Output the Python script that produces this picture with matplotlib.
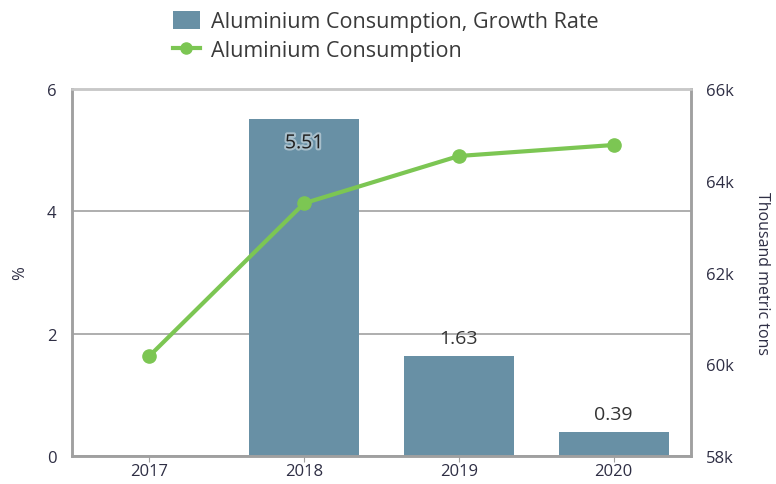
import matplotlib.pyplot as plt
import matplotlib.patheffects as pe
from matplotlib.lines import Line2D
from matplotlib.patches import Patch

years = ["2017", "2018", "2019", "2020"]
growth_rate = [None, 5.51, 1.63, 0.39]
consumption = [60.18, 63.51, 64.54, 64.78]  # thousand metric tons (k)

BAR_COLOR = "#6890a5"
LINE_COLOR = "#7cc653"
TEXT_COLOR = "#2e2e44"
FRAME_COLOR = "#a0a0a0"

plt.rcParams["font.family"] = ["Open Sans", "DejaVu Sans"]

fig = plt.figure(figsize=(7.76, 4.85), dpi=100)
ax = fig.add_axes([0.0928, 0.0577, 0.7977, 0.7567])
ax2 = ax.twinx()

x = list(range(len(years)))
bx = [i for i, v in zip(x, growth_rate) if v is not None]
bv = [v for v in growth_rate if v is not None]

ax.set_axisbelow(True)
ax.yaxis.grid(True, color="#a8a8a8", linewidth=1.3)
ax.bar(bx, bv, width=0.71, color=BAR_COLOR, zorder=2)

for xi, v in zip(bx, bv):
    if v > 5:
        ax.text(xi, v - 0.25, f"{v:.2f}", ha="center", va="top", fontsize=14,
                color="#222222",
                path_effects=[pe.withStroke(linewidth=3, foreground="#e8eef2", alpha=0.5)])
    else:
        ax.text(xi, v + 0.15, f"{v:.2f}", ha="center", va="bottom", fontsize=14,
                color="#333333")

ax.set_xlim(-0.5, 3.5)
ax.set_ylim(0, 6)
ax.set_yticks([0, 2, 4, 6])
ax.set_xticks(x)
ax.set_xticklabels(years)
ax.set_ylabel("%", fontsize=12, color=TEXT_COLOR, labelpad=14)

ax2.plot(x, consumption, color=LINE_COLOR, linewidth=3, marker="o",
         markersize=9.5, zorder=5)
ax2.set_ylim(58, 66)
ax2.set_yticks([58, 60, 62, 64, 66])
ax2.set_yticklabels([f"{t}k" for t in [58, 60, 62, 64, 66]])
ax2.set_ylabel("Thousand metric tons", fontsize=11.5, color=TEXT_COLOR,
               rotation=270, labelpad=26)

ax.set_zorder(ax2.get_zorder() - 1)
ax2.patch.set_visible(False)
ax.patch.set_visible(True)

for a in (ax, ax2):
    for s in a.spines.values():
        s.set_color(FRAME_COLOR)
        s.set_linewidth(1.8)
    a.tick_params(axis="y", length=0, labelsize=12, labelcolor=TEXT_COLOR, pad=11)
ax.spines["top"].set_color("#c8c8c8")
ax2.spines["top"].set_color("#c8c8c8")
ax.tick_params(axis="x", length=4, color=FRAME_COLOR, labelsize=12,
               labelcolor=TEXT_COLOR, pad=1)

handles = [Patch(facecolor=BAR_COLOR, edgecolor="none"),
           Line2D([], [], color=LINE_COLOR, linewidth=3, marker="o", markersize=8)]
fig.legend(handles, ["Aluminium Consumption, Growth Rate", "Aluminium Consumption"],
           loc="upper left", bbox_to_anchor=(173 / 776, 1 - 12 / 485), frameon=False,
           fontsize=15.5, labelcolor="#3a3a3a", handlelength=1.25, handleheight=0.9,
           handletextpad=0.5, labelspacing=0.35, borderpad=0, borderaxespad=0)

fig.savefig("out.png", dpi=100)
